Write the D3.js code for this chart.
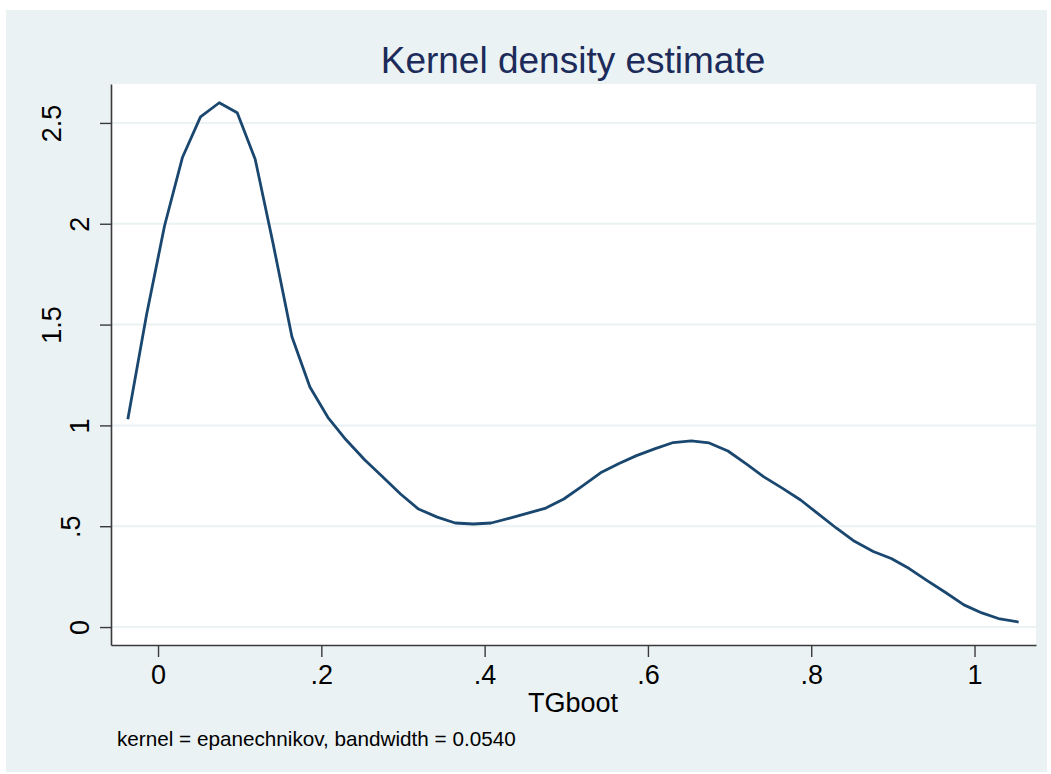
<!DOCTYPE html>
<html>
<head>
<meta charset="utf-8">
<script src="https://cdn.jsdelivr.net/npm/d3@7"></script>
<style>
  body { margin: 0; background: #fff; }
  svg { display: block; font-family: "Liberation Sans", Arial, sans-serif; }
</style>
</head>
<body>
<svg id="chart" width="1051" height="774"></svg>
<script>
// evaluation grid of the kernel density (50 points)
const tgboot = [
  -0.037, -0.014, 0.008, 0.030, 0.052, 0.075, 0.097, 0.119, 0.141, 0.164,
  0.186, 0.208, 0.230, 0.253, 0.275, 0.297, 0.319, 0.342, 0.364, 0.386,
  0.408, 0.431, 0.453, 0.475, 0.497, 0.520, 0.542, 0.564, 0.586, 0.609,
  0.631, 0.653, 0.675, 0.698, 0.720, 0.742, 0.764, 0.787, 0.809, 0.831,
  0.853, 0.876, 0.898, 0.920, 0.942, 0.965, 0.987, 1.009, 1.031, 1.054
];
const density = [
  1.03, 1.55, 1.99, 2.33, 2.53, 2.60, 2.55, 2.32, 1.90, 1.44,
  1.19, 1.04, 0.93, 0.83, 0.745, 0.66, 0.585, 0.545, 0.516, 0.511,
  0.516, 0.54, 0.565, 0.59, 0.635, 0.70, 0.765, 0.81, 0.85, 0.885,
  0.915, 0.923, 0.913, 0.873, 0.81, 0.745, 0.69, 0.63, 0.56, 0.49,
  0.425, 0.375, 0.34, 0.29, 0.23, 0.17, 0.11, 0.07, 0.04, 0.025
];
const xTicks = [0, 0.2, 0.4, 0.6, 0.8, 1];
const xTickLabels = ["0", ".2", ".4", ".6", ".8", "1"];
const yTicks = [0, 0.5, 1, 1.5, 2, 2.5];
const yTickLabels = ["0", ".5", "1", "1.5", "2", "2.5"];
const xDomain = [-0.0576, 1.0753];
const yDomain = [-0.089, 2.693];
const titleText = "Kernel density estimate";
const xTitle = "TGboot";
const noteText = "kernel = epanechnikov, bandwidth = 0.0540";

// layout
const outer = { x0: 6, y0: 10, x1: 1047, y1: 772 };
const plot = { left: 111, right: 1036, top: 84, bottom: 645 };
const bgColor = "#eaf2f3";
const lineColor = "#1a476f";
const axisColor = "#3a3a3a";

const svg = d3.select("#chart");

svg.append("rect")
  .attr("x", outer.x0).attr("y", outer.y0)
  .attr("width", outer.x1 - outer.x0).attr("height", outer.y1 - outer.y0)
  .attr("fill", bgColor);

svg.append("rect")
  .attr("x", plot.left).attr("y", plot.top)
  .attr("width", plot.right - plot.left).attr("height", plot.bottom - plot.top)
  .attr("fill", "#fff");

const x = d3.scaleLinear().domain(xDomain).range([plot.left, plot.right]);
const y = d3.scaleLinear().domain(yDomain).range([plot.bottom, plot.top]);

// horizontal grid lines
svg.append("g")
  .selectAll("line")
  .data(yTicks)
  .enter()
  .append("line")
  .attr("x1", plot.left).attr("x2", plot.right)
  .attr("y1", d => y(d)).attr("y2", d => y(d))
  .attr("stroke", bgColor)
  .attr("stroke-width", 2);

// density curve
const line = d3.line()
  .x(d => x(d[0]))
  .y(d => y(d[1]));

svg.append("path")
  .datum(d3.zip(tgboot, density))
  .attr("d", line)
  .attr("fill", "none")
  .attr("stroke", lineColor)
  .attr("stroke-width", 2.8)
  .attr("stroke-linejoin", "round");

// x axis
const xAxis = svg.append("g")
  .attr("transform", `translate(0,${plot.bottom})`)
  .call(d3.axisBottom(x)
    .tickValues(xTicks)
    .tickFormat((d, i) => xTickLabels[i])
    .tickSize(12)
    .tickSizeOuter(0)
    .tickPadding(8));
xAxis.select(".domain").attr("stroke", axisColor).attr("stroke-width", 1.6);
xAxis.selectAll(".tick line").attr("stroke", axisColor).attr("stroke-width", 1.4);
xAxis.selectAll(".tick text")
  .attr("fill", "#000")
  .attr("font-size", 27)
  .attr("font-family", "Liberation Sans, Arial, sans-serif");

// y axis
const yAxis = svg.append("g")
  .attr("transform", `translate(${plot.left},0)`)
  .call(d3.axisLeft(y)
    .tickValues(yTicks)
    .tickFormat((d, i) => yTickLabels[i])
    .tickSize(11)
    .tickSizeOuter(0));
yAxis.select(".domain").attr("stroke", axisColor).attr("stroke-width", 1.6);
yAxis.selectAll(".tick line").attr("stroke", axisColor).attr("stroke-width", 1.4);
yAxis.selectAll(".tick text")
  .attr("fill", "#000")
  .attr("font-size", 27)
  .attr("font-family", "Liberation Sans, Arial, sans-serif")
  .attr("text-anchor", "middle")
  .attr("dy", null)
  .attr("dominant-baseline", "central")
  .each(function () {
    // rotated labels: longer labels sit further from the axis
    const len = this.getComputedTextLength();
    const cx = -31 - 1.22 * (len - 15);
    d3.select(this)
      .attr("x", null)
      .attr("transform", `translate(${cx},0) rotate(-90)`);
  });

// titles
svg.append("text")
  .attr("x", 573).attr("y", 73)
  .attr("text-anchor", "middle")
  .attr("font-size", 37)
  .attr("fill", "#1c2b5a")
  .text(titleText);

svg.append("text")
  .attr("x", 573).attr("y", 712)
  .attr("text-anchor", "middle")
  .attr("font-size", 27)
  .attr("fill", "#000")
  .text(xTitle);

svg.append("text")
  .attr("x", 117).attr("y", 746)
  .attr("font-size", 20.7)
  .attr("fill", "#000")
  .text(noteText);
</script>
</body>
</html>
